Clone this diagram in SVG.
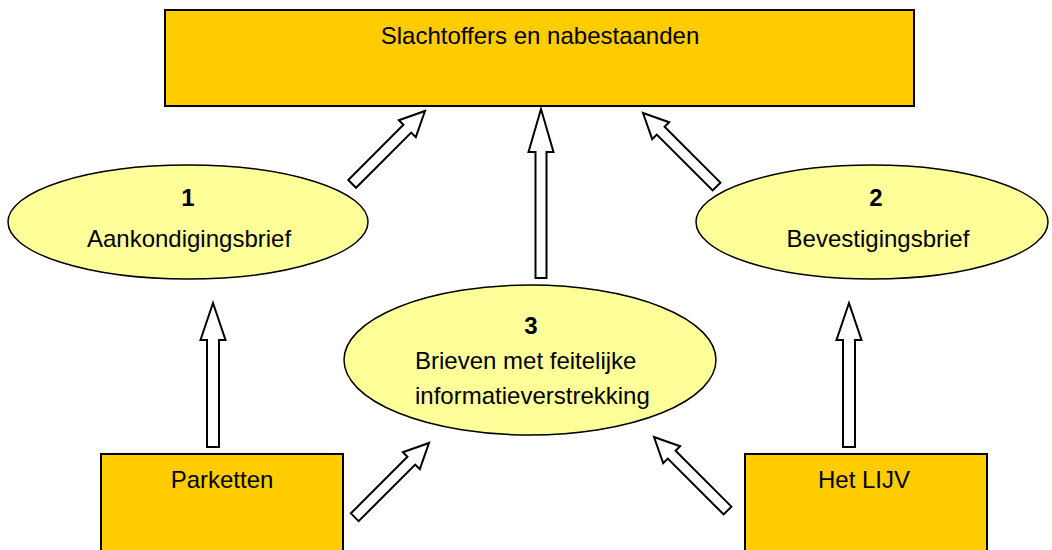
<svg xmlns="http://www.w3.org/2000/svg" width="1052" height="550" viewBox="0 0 1052 550">
<style>
.box{fill:#FFCC00;stroke:#000;stroke-width:2}
.ell{fill:#FFFF99;stroke:#000;stroke-width:1.5}
.arr{fill:#fff;stroke:#000;stroke-width:2;stroke-linejoin:miter}
text{font-family:"Liberation Sans",Arial,sans-serif;font-size:24px;fill:#000}
.c{text-anchor:middle}
.b{font-weight:bold}
</style>
<rect width="1052" height="550" fill="#fff"/>
<g id="slachtoffers">
<rect class="box" x="165" y="10" width="749" height="96"/>
<text class="c" x="540" y="44">Slachtoffers en nabestaanden</text>
</g>
<g id="aankondigingsbrief">
<ellipse class="ell" cx="188" cy="222" rx="180" ry="57"/>
<text class="c b" x="188" y="206">1</text>
<text class="c" x="189" y="247">Aankondigingsbrief</text>
</g>
<g id="bevestigingsbrief">
<ellipse class="ell" cx="872" cy="222" rx="176" ry="57"/>
<text class="c b" x="876" y="206">2</text>
<text class="c" x="878" y="247">Bevestigingsbrief</text>
</g>
<g id="brieven">
<ellipse class="ell" cx="530" cy="360" rx="186" ry="75"/>
<text class="c b" x="531" y="334">3</text>
<text x="415" y="369">Brieven met feitelijke</text>
<text x="415" y="404">informatieverstrekking</text>
</g>
<g id="parketten">
<rect class="box" x="101" y="454" width="242" height="110"/>
<text class="c" x="222" y="488">Parketten</text>
</g>
<g id="lijv">
<rect class="box" x="745" y="454" width="242" height="110"/>
<text class="c" x="864" y="488">Het LIJV</text>
</g>
<g id="connectors">
<path class="arr" transform="translate(541,109)" d="M0,0 L12.5,43 L5.5,43 L5.5,169 L-5.5,169 L-5.5,43 L-12.5,43 Z"/>
<path class="arr" transform="translate(213,303)" d="M0,0 L12.5,37 L6,37 L6,144 L-6,144 L-6,37 L-12.5,37 Z"/>
<path class="arr" transform="translate(849,303)" d="M0,0 L12.5,37 L6,37 L6,144 L-6,144 L-6,37 L-12.5,37 Z"/>
<path class="arr" transform="translate(425,111) rotate(45)" d="M0,0 L12,25 L5.5,25 L5.5,103 L-5.5,103 L-5.5,25 L-12,25 Z"/>
<path class="arr" transform="translate(643,113) rotate(-45)" d="M0,0 L12,25 L5.5,25 L5.5,104 L-5.5,104 L-5.5,25 L-12,25 Z"/>
<path class="arr" transform="translate(429,443) rotate(45)" d="M0,0 L12,25 L5.5,25 L5.5,105 L-5.5,105 L-5.5,25 L-12,25 Z"/>
<path class="arr" transform="translate(654,437) rotate(-45)" d="M0,0 L12,25 L5.5,25 L5.5,104 L-5.5,104 L-5.5,25 L-12,25 Z"/>
</g>
</svg>
